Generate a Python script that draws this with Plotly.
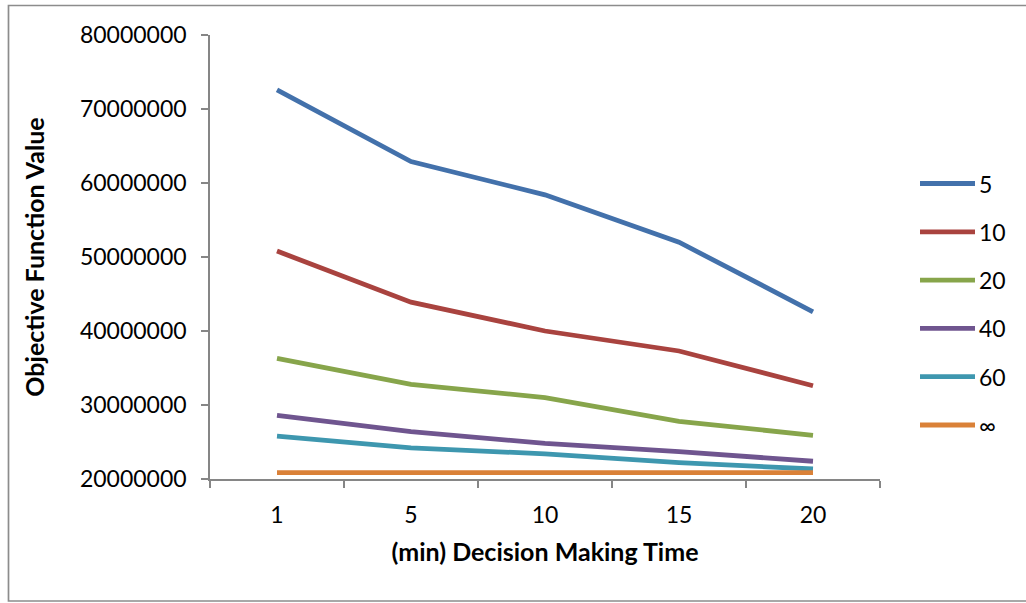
import plotly.graph_objects as go

# Decision making time (minutes) on the category axis
times = ["1", "5", "10", "15", "20"]

# Objective function value per series
series_names = ["5", "10", "20", "40", "60", "∞"]
values_5 = [72600000, 62900000, 58400000, 52000000, 42600000]
values_10 = [50800000, 43900000, 40000000, 37300000, 32600000]
values_20 = [36300000, 32800000, 31000000, 27800000, 25900000]
values_40 = [28600000, 26400000, 24800000, 23700000, 22400000]
values_60 = [25800000, 24200000, 23400000, 22200000, 21350000]
values_inf = [20850000, 20850000, 20850000, 20850000, 20850000]

series_values = [values_5, values_10, values_20, values_40, values_60, values_inf]
colors = ["#4371AB", "#A9433F", "#87A54B", "#6F558F", "#3E97AF", "#DA8138"]

y_ticks = [20000000, 30000000, 40000000, 50000000, 60000000, 70000000, 80000000]

FONT = "Lato"
AXIS_GREY = "#868686"

W, H = 1026, 603
ML, MR, MT, MB = 210, 146, 35, 124
PW, PH = W - ML - MR, H - MT - MB


def px_to_paper_x(px):
    return (px - ML) / PW


def px_to_paper_y(py):
    return (H - MB - py) / PH


fig = go.Figure()
for name, vals, col in zip(series_names, series_values, colors):
    fig.add_trace(go.Scatter(
        x=times, y=vals, mode="lines", name=name,
        line=dict(color=col, width=4.8),
        showlegend=False,
    ))

# Legend drawn at the right of the plot area
shapes = []
annotations = []
leg_top, leg_step = 183.5, 48.3
for i, (name, col) in enumerate(zip(series_names, colors)):
    yy = px_to_paper_y(leg_top + i * leg_step)
    shapes.append(dict(
        type="line", xref="paper", yref="paper",
        x0=px_to_paper_x(920), x1=px_to_paper_x(975), y0=yy, y1=yy,
        line=dict(color=col, width=4.8),
    ))
    annotations.append(dict(
        xref="paper", yref="paper", x=px_to_paper_x(977), y=yy,
        text=name, showarrow=False, xanchor="left", yanchor="middle",
        font=dict(family=FONT, size=23, color="black"),
    ))

# Chart frame
shapes.append(dict(
    type="rect", xref="paper", yref="paper", layer="below",
    x0=px_to_paper_x(8.5), x1=px_to_paper_x(1040),
    y0=px_to_paper_y(601), y1=px_to_paper_y(5.5),
    line=dict(color="#8C8C8C", width=1.7), fillcolor="rgba(0,0,0,0)",
))

fig.update_layout(
    width=W, height=H,
    margin=dict(l=ML, r=MR, t=MT, b=MB, pad=0),
    paper_bgcolor="white", plot_bgcolor="white",
    font=dict(family=FONT, size=23, color="black"),
    shapes=shapes, annotations=annotations,
    xaxis=dict(
        type="category", range=[-0.5, 4.5],
        tickson="boundaries", ticks="outside", ticklen=7,
        tickcolor=AXIS_GREY, tickwidth=1.5,
        showline=True, linecolor=AXIS_GREY, linewidth=1.5,
        showgrid=False, zeroline=False,
        ticklabelstandoff=15,
        tickfont=dict(family=FONT, size=23, color="black"),
        title=dict(text="<b>(min) Decision Making Time</b>", standoff=16,
                   font=dict(family=FONT, size=25, color="black")),
    ),
    yaxis=dict(
        range=[20000000, 80000000], tickvals=y_ticks,
        ticktext=[str(v) for v in y_ticks],
        ticks="outside", ticklen=7, tickcolor=AXIS_GREY, tickwidth=1.5,
        showline=True, linecolor=AXIS_GREY, linewidth=1.5,
        showgrid=False, zeroline=False,
        ticklabelstandoff=10,
        tickfont=dict(family=FONT, size=23, color="black"),
        title=dict(text="<b>Objective Function Value</b>", standoff=28,
                   font=dict(family=FONT, size=25, color="black")),
    ),
)

fig.write_html("out.html")
